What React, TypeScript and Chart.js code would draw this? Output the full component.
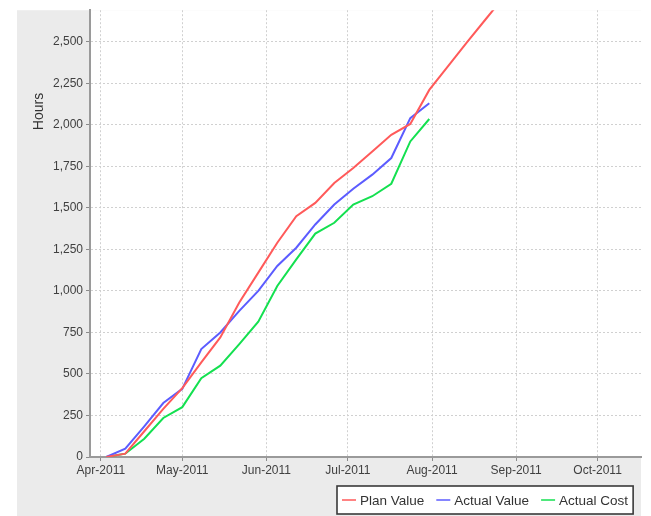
import React, { useEffect, useRef } from 'react';
import { Chart, registerables } from 'chart.js';

Chart.register(...registerables);

// Days counted from 1 Apr 2011
const monthLabels = ['Apr-2011', 'May-2011', 'Jun-2011', 'Jul-2011', 'Aug-2011', 'Sep-2011', 'Oct-2011'];
const monthDays = [0, 30, 61, 91, 122, 153, 183];
const yTickValues = [0, 250, 500, 750, 1000, 1250, 1500, 1750, 2000, 2250, 2500];

const weekDays = [2, 9, 16, 23, 30, 37, 44, 51, 58, 65, 72, 79, 86, 93, 100, 107, 114, 121, 128, 135, 142, 149];
const planValue = [0, 20, 155, 290, 415, 570, 720, 930, 1110, 1290, 1450, 1530, 1650, 1740, 1840, 1940, 2005, 2210, 2355, 2500, 2640, 2780];
const actualValue = [0, 50, 185, 325, 410, 650, 750, 880, 1000, 1150, 1260, 1400, 1520, 1615, 1700, 1800, 2040, 2130];
const actualCost = [0, 20, 110, 235, 300, 475, 550, 680, 815, 1030, 1190, 1345, 1410, 1520, 1570, 1645, 1900, 2035];

const seriesNames = ['Plan Value', 'Actual Value', 'Actual Cost'];
const seriesColors = ['#ff5a5a', '#5c5cff', '#14e050'];

const FONT = '"Liberation Sans", Arial, sans-serif';

const toPoints = (vals: number[]) => vals.map((v, i) => ({ x: weekDays[i], y: v }));

const bgPlugin = {
  id: 'bgPanel',
  beforeDraw(chart: any) {
    const { ctx, chartArea } = chart;
    ctx.save();
    ctx.fillStyle = '#ffffff';
    ctx.fillRect(0, 0, chart.width, chart.height);
    ctx.fillStyle = '#ebebeb';
    ctx.fillRect(17, chartArea.top, chartArea.right - 17, chart.height - chartArea.top);
    ctx.fillStyle = '#ffffff';
    ctx.fillRect(chartArea.left, chartArea.top, chartArea.right - chartArea.left, chartArea.bottom - chartArea.top);
    ctx.restore();
  },
};

const titlePlugin = {
  id: 'yTitle',
  afterDraw(chart: any) {
    const { ctx } = chart;
    const y = chart.scales.y.getPixelForValue(2080);
    ctx.save();
    ctx.translate(39, y);
    ctx.rotate(-Math.PI / 2);
    ctx.font = `14px ${FONT}`;
    ctx.fillStyle = '#333333';
    ctx.textAlign = 'center';
    ctx.textBaseline = 'middle';
    ctx.fillText('Hours', 0, 0);
    ctx.restore();
  },
};

const legendPlugin = {
  id: 'boxLegend',
  afterDraw(chart: any) {
    const { ctx } = chart;
    const left = 337;
    const top = 486;
    const height = 28;
    ctx.save();
    ctx.font = `13.5px ${FONT}`;
    const lineLen = 14;
    const gapAfterLine = 4;
    const gapBetween = 12;
    const widths = chart.data.datasets.map((d: any) => ctx.measureText(d.label).width);
    let total = 5;
    widths.forEach((w: number, i: number) => {
      total += lineLen + gapAfterLine + w + (i < widths.length - 1 ? gapBetween : 0);
    });
    total += 5;
    ctx.fillStyle = '#ffffff';
    ctx.fillRect(left, top, total, height);
    ctx.strokeStyle = '#3a3a3a';
    ctx.lineWidth = 1.6;
    ctx.strokeRect(left, top, total, height);
    let x = left + 5;
    const cy = top + height / 2;
    chart.data.datasets.forEach((d: any, i: number) => {
      ctx.strokeStyle = d.borderColor;
      ctx.lineWidth = 1.5;
      ctx.beginPath();
      ctx.moveTo(x, cy);
      ctx.lineTo(x + lineLen, cy);
      ctx.stroke();
      x += lineLen + gapAfterLine;
      ctx.fillStyle = '#333333';
      ctx.textBaseline = 'middle';
      ctx.textAlign = 'left';
      ctx.fillText(d.label, x, cy + 1);
      x += widths[i] + gapBetween;
    });
    ctx.restore();
  },
};

export default function App() {
  const canvasRef = useRef<HTMLCanvasElement | null>(null);

  useEffect(() => {
    if (!canvasRef.current) return;
    const datasets = [planValue, actualValue, actualCost].map((vals, i) => ({
      label: seriesNames[i],
      data: toPoints(vals),
      borderColor: seriesColors[i],
      backgroundColor: seriesColors[i],
      borderWidth: 2,
      pointRadius: 0,
      tension: 0,
      fill: false,
    }));
    const chart = new Chart(canvasRef.current, {
      type: 'line',
      data: { datasets },
      plugins: [bgPlugin, titlePlugin, legendPlugin],
      options: {
        animation: false,
        responsive: false,
        maintainAspectRatio: false,
        layout: { padding: { left: 0, top: 9, right: 10, bottom: 30 } },
        plugins: {
          legend: { display: false },
          tooltip: { enabled: false },
        },
        scales: {
          x: {
            type: 'linear',
            min: -4,
            max: 199,
            afterBuildTicks: (scale: any) => {
              scale.ticks = monthDays.map((v) => ({ value: v }));
            },
            afterFit: (scale: any) => {
              scale.height = 29;
            },
            ticks: {
              autoSkip: false,
              maxRotation: 0,
              padding: 2,
              color: '#404040',
              font: { family: FONT, size: 12 },
              callback: (value: any) => {
                const idx = monthDays.indexOf(Number(value));
                return idx >= 0 ? monthLabels[idx] : '';
              },
            },
            grid: {
              color: '#d0d0d0',
              lineWidth: 1,
              tickColor: '#8a8a8a',
              tickLength: 4,
            },
            border: { color: '#9a9a9a', width: 2, dash: [2, 2] },
          },
          y: {
            type: 'linear',
            min: 0,
            max: 2690,
            afterBuildTicks: (scale: any) => {
              scale.ticks = yTickValues.map((v) => ({ value: v }));
            },
            afterFit: (scale: any) => {
              scale.width = 90;
            },
            ticks: {
              padding: 3,
              color: '#404040',
              font: { family: FONT, size: 12 },
              callback: (value: any) => Number(value).toLocaleString('en-US'),
            },
            grid: {
              color: '#d0d0d0',
              lineWidth: 1,
              tickColor: '#8a8a8a',
              tickLength: 4,
            },
            border: { color: '#9a9a9a', width: 2, dash: [2, 2] },
          },
        },
      },
    } as any);
    return () => chart.destroy();
  }, []);

  return (
    <div style={{ position: 'absolute', left: 0, top: 0, width: 651, height: 516 }}>
      <canvas ref={canvasRef} width={651} height={516} style={{ display: 'block' }} />
    </div>
  );
}
